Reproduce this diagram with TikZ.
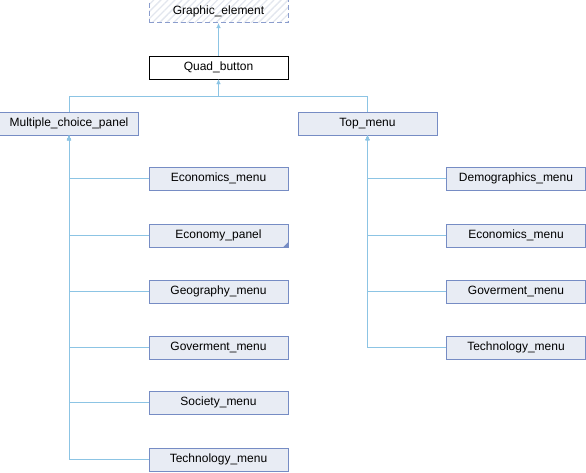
\documentclass[tikz,border=0pt]{standalone}
\usepackage{fontspec}
\setmainfont{Liberation Sans}
\usetikzlibrary{positioning, patterns.meta, arrows.meta}

\definecolor{boxfill}{RGB}{232,236,244}
\definecolor{boxline}{RGB}{118,140,196}
\definecolor{edgeblue}{RGB}{140,196,228}
\definecolor{hatch}{RGB}{226,230,238}

\begin{document}
\begin{tikzpicture}[x=1pt, y=-1pt,
    every node/.style = { draw = boxline, fill = boxfill, minimum width = 139pt, minimum height = 23pt, inner sep = 0pt, font = \fontsize{12}{14}\selectfont },
    base/.style = { draw = boxline!85, dash pattern = on 5pt off 3pt, fill = none, pattern = {Lines[angle=45, distance=5pt, line width=1.3pt]}, pattern color = hatch },
    current/.style = { draw = black, fill = white },
    inherit/.style = { draw = edgeblue, -{Latex[length=5pt, width=4.5pt]} }]
  \useasboundingbox (0,0) rectangle (586,472);

  \node [base] (graphic) at (218.5,11) { Graphic\_element };
  \node [current] (quad) at (218.5,67.5) { Quad\_button };
  \node (multi) at (69,123.5) { Multiple\_choice\_panel };
  \node (top) at (367.5,123.5) { Top\_menu };

  % children of Multiple_choice_panel
  \node (econ) at (218.5,178.5) { Economics\_menu };
  \node (economy) at (218.5,235.5) { Economy\_panel };
  \node (geo) at (218.5,291.5) { Geography\_menu };
  \node (gov) at (218.5,347.5) { Goverment\_menu };
  \node (soc) at (218.5,402.5) { Society\_menu };
  \node (tech) at (218.5,459.5) { Technology\_menu };

  % children of Top_menu
  \node (demo) at (516,178.5) { Demographics\_menu };
  \node (econtop) at (516,235.5) { Economics\_menu };
  \node (govtop) at (516,291.5) { Goverment\_menu };
  \node (techtop) at (516,347.5) { Technology\_menu };

  \fill [boxline] (economy.south east) -- ++(-5,0) -- ++(5,-5) -- cycle;

  \draw [inherit] (quad) -- (graphic);
  \coordinate (split) at (218.5,96);
  \draw [draw = edgeblue] (multi.north) |- (split);
  \draw [draw = edgeblue] (top.north) |- (split);
  \draw [inherit] (split) -- (quad.south);

  \foreach \kid in {econ, economy, geo, gov, soc, tech}
    \draw [inherit] (\kid.west) -| (multi.south);
  \foreach \kid in {demo, econtop, govtop, techtop}
    \draw [inherit] (\kid.west) -| (top.south);
\end{tikzpicture}
\end{document}
